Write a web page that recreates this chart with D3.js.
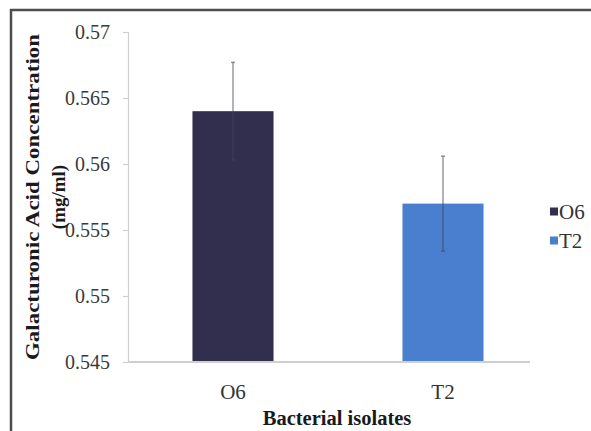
<!DOCTYPE html>
<html>
<head>
<meta charset="utf-8">
<script src="https://cdn.jsdelivr.net/npm/d3@7"></script>
<style>
  html, body { margin: 0; padding: 0; background: #fff; }
  svg { display: block; }
  svg text { font-family: "Liberation Serif", "DejaVu Serif", serif !important; }
</style>
</head>
<body>
<svg id="chart" width="591" height="431"></svg>
<script>
// Galacturonic acid produced by each bacterial isolate
const categories = ["O6", "T2"];
const values = [0.564, 0.557];
const errors = [0.0037, 0.0036];
const barColors = ["#312f4d", "#4a7fcf"];
const yTicks = [0.545, 0.55, 0.555, 0.56, 0.565, 0.57];
const yTickLabels = ["0.545", "0.55", "0.555", "0.56", "0.565", "0.57"];

const serif = "Liberation Serif";
const svg = d3.select("#chart");

// outer frame
svg.append("rect")
  .attr("x", 11).attr("y", 10)
  .attr("width", 600).attr("height", 440)
  .attr("fill", "none")
  .attr("stroke", "#4d4d4d")
  .attr("stroke-width", 2.5);

const plot = { left: 128, right: 548, top: 32, bottom: 362 };

const x = d3.scaleBand()
  .domain(categories)
  .range([plot.left, plot.right])
  .paddingInner(0.614)
  .paddingOuter(0.307);

const y = d3.scaleLinear()
  .domain([0.545, 0.57])
  .range([plot.bottom, plot.top]);

// y axis
const yAxis = d3.axisLeft(y)
  .tickValues(yTicks)
  .tickFormat((d, i) => yTickLabels[i])
  .tickSize(5)
  .tickPadding(13);

const gy = svg.append("g")
  .attr("transform", `translate(${plot.left},0)`)
  .call(yAxis)
  .attr("font-family", serif)
  .attr("font-size", 20);
gy.select(".domain").attr("stroke", "#d0d0d0").attr("stroke-width", 1.2);
gy.selectAll(".tick line").attr("stroke", "#d0d0d0").attr("stroke-width", 1.2);
gy.selectAll(".tick text")
  .attr("fill", "#3a3a3a");

// bars
svg.append("g").selectAll("rect")
  .data(categories)
  .join("rect")
  .attr("x", d => x(d))
  .attr("width", x.bandwidth())
  .attr("y", (d, i) => y(values[i]))
  .attr("height", (d, i) => y(0.545) - y(values[i]))
  .attr("fill", (d, i) => barColors[i]);

// x axis
const xAxis = d3.axisBottom(x).tickSize(0).tickPadding(22);
const gx = svg.append("g")
  .attr("transform", `translate(0,${plot.bottom})`)
  .call(xAxis)
  .attr("font-family", serif)
  .attr("font-size", 21);
gx.select(".domain").attr("stroke", "#cfcfcf").attr("stroke-width", 2)
  .attr("d", `M${plot.left},0H${plot.right - 18}`);
gx.selectAll(".tick text")
  .attr("fill", "#333");

// error bars
const eb = svg.append("g");
categories.forEach((c, i) => {
  const cx = x(c) + x.bandwidth() / 2;
  eb.append("line")
    .attr("x1", cx).attr("x2", cx)
    .attr("y1", y(values[i] - errors[i]))
    .attr("y2", y(values[i] + errors[i]))
    .attr("stroke", "rgba(70,70,85,0.55)")
    .attr("stroke-width", 1.5);
  [values[i] - errors[i], values[i] + errors[i]].forEach(v => {
    eb.append("line")
      .attr("x1", cx - 2).attr("x2", cx + 2)
      .attr("y1", y(v)).attr("y2", y(v))
      .attr("stroke", "rgba(70,70,85,0.55)")
      .attr("stroke-width", 1.5);
  });
});

// axis titles
const yTitle = svg.append("text")
  .attr("transform", `translate(39,${(plot.top + plot.bottom) / 2}) rotate(-90)`)
  .attr("text-anchor", "middle")
  .attr("font-family", serif)
  .attr("font-size", 19)
  .attr("font-weight", "bold")
  .attr("fill", "#1a1a1a");
yTitle.append("tspan").attr("x", 0).attr("dy", 0)
  .attr("textLength", 326).attr("lengthAdjust", "spacingAndGlyphs")
  .text("Galacturonic Acid Concentration");
yTitle.append("tspan").attr("x", 0).attr("dy", 26)
  .text("(mg/ml)");

svg.append("text")
  .attr("x", 337).attr("y", 425)
  .attr("text-anchor", "middle")
  .attr("font-family", serif)
  .attr("font-size", 20.5)
  .attr("font-weight", "bold")
  .attr("fill", "#1a1a1a")
  .text("Bacterial isolates");

// legend
const legend = svg.append("g").attr("transform", "translate(550,212)");
categories.forEach((c, i) => {
  const g = legend.append("g").attr("transform", `translate(0,${i * 29})`);
  g.append("rect")
    .attr("x", 0).attr("y", -4.5)
    .attr("width", 8).attr("height", 8)
    .attr("fill", barColors[i]);
  g.append("text")
    .attr("x", 9).attr("y", 0)
    .attr("dy", "0.35em")
    .attr("font-family", serif)
    .attr("font-size", 21)
    .attr("fill", "#333")
    .text(c);
});
</script>
</body>
</html>
